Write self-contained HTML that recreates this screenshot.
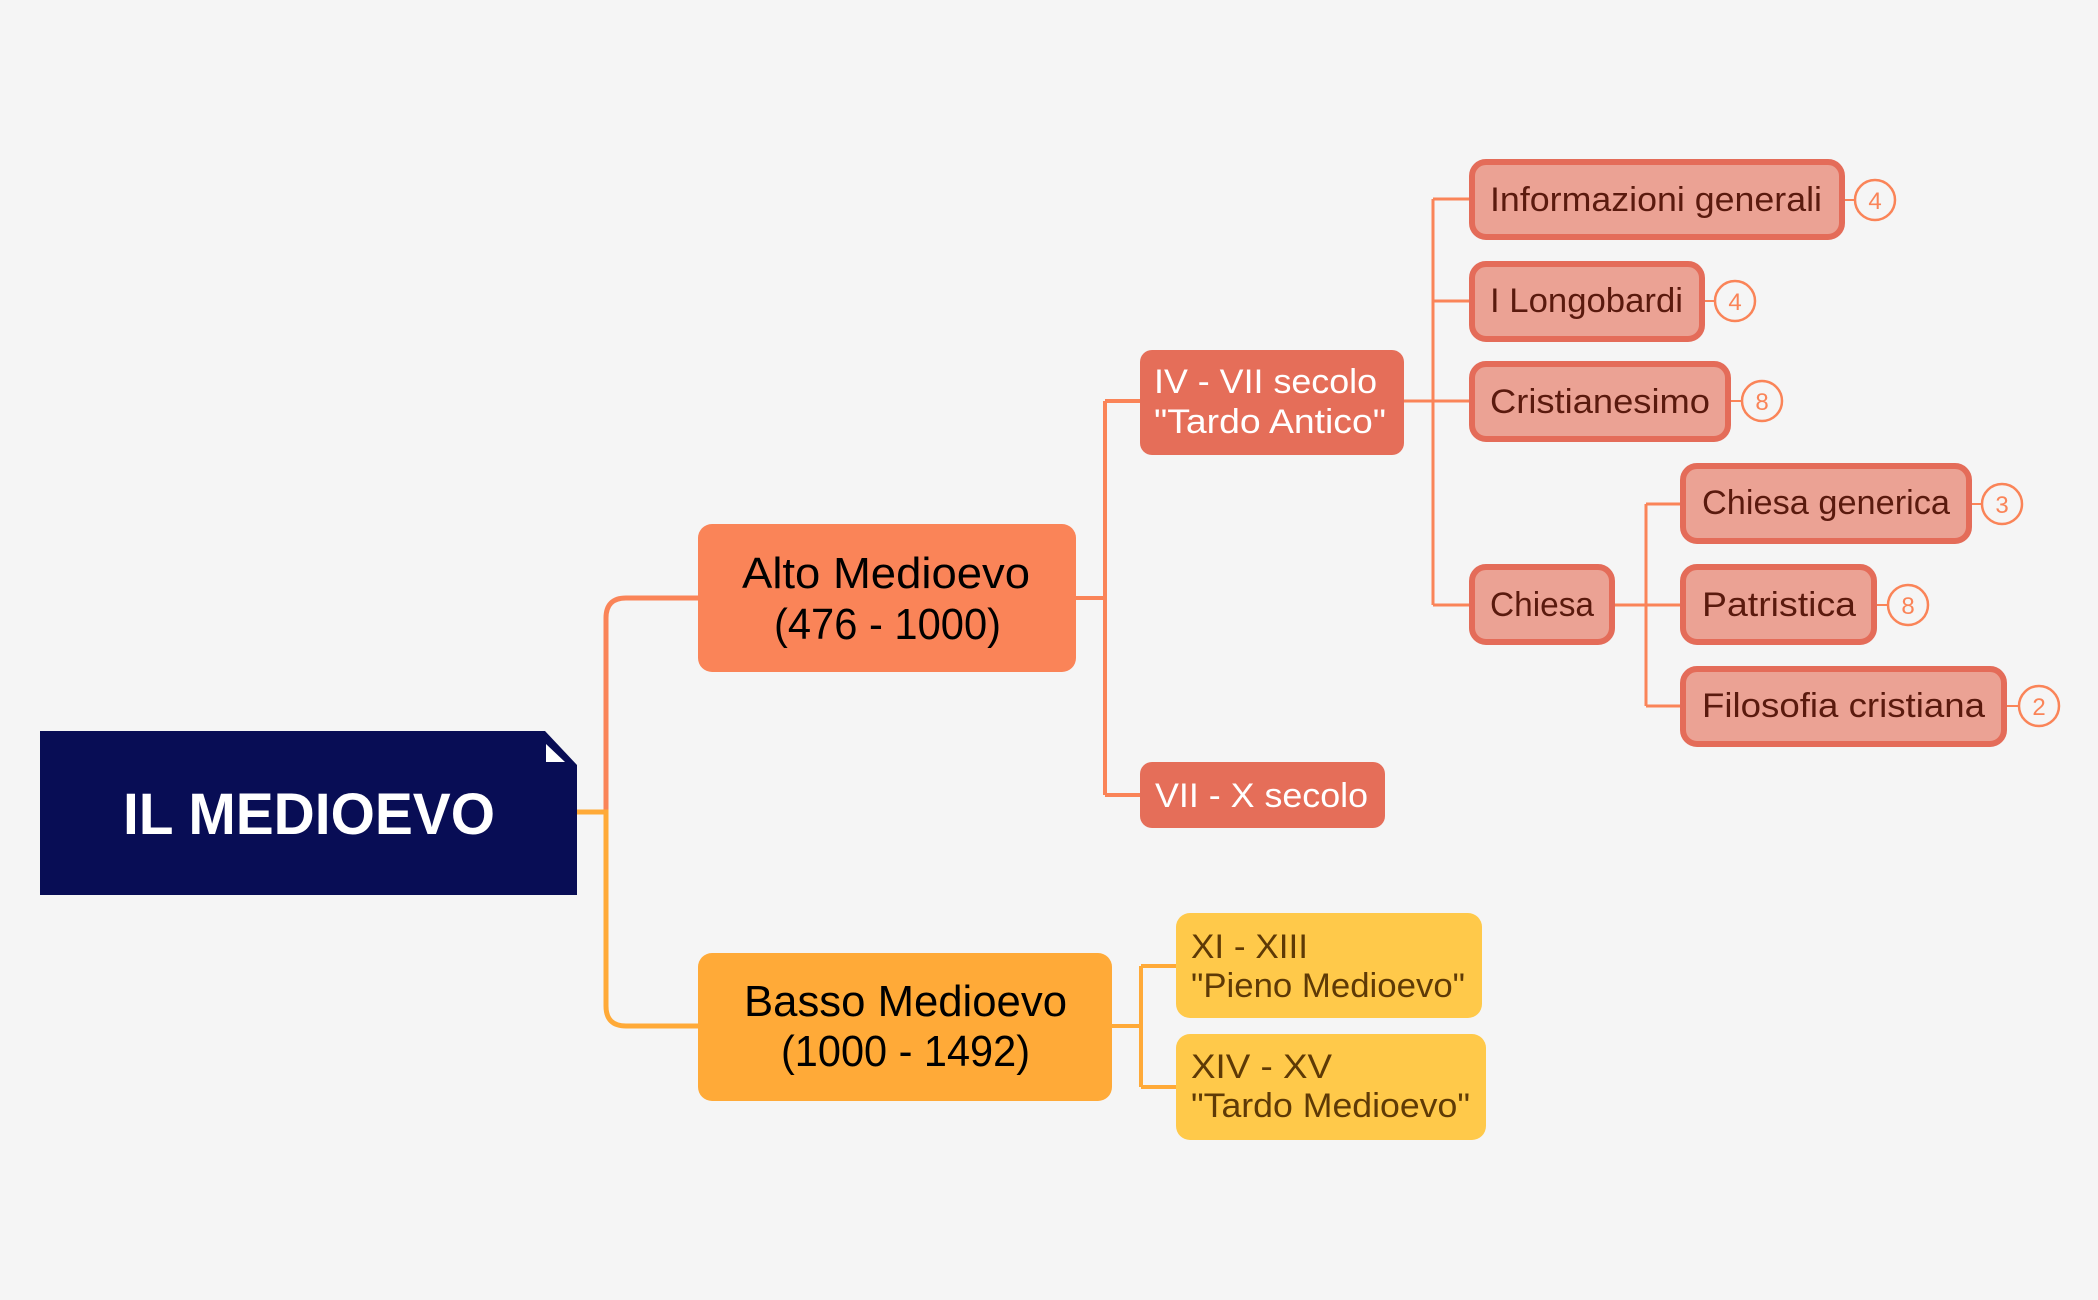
<!DOCTYPE html>
<html><head><meta charset="utf-8"><style>
html,body{margin:0;padding:0;background:#f5f5f5;}
svg{display:block;}
text{font-family:"Liberation Sans Narrow","Liberation Sans",sans-serif;}
</style></head><body>
<svg width="2098" height="1300" viewBox="0 0 2098 1300" xmlns="http://www.w3.org/2000/svg">
<rect width="2098" height="1300" fill="#f5f5f5"/>
<path d="M577,812 H606 V618 Q606,598 626,598 H698" fill="none" stroke="#FA8458" stroke-width="5"/>
<path d="M577,812 H606 V1006 Q606,1026 626,1026 H698" fill="none" stroke="#FFAA38" stroke-width="5"/>
<path d="M1076,598 H1105 M1105,401 V795 M1105,401 H1140 M1105,795 H1140" fill="none" stroke="#FA8458" stroke-width="4"/>
<path d="M1404,401 H1469 M1433,199 V605 M1433,199 H1469 M1433,301 H1469 M1433,605 H1469" fill="none" stroke="#FA8458" stroke-width="3"/>
<path d="M1615,605 H1680 M1646,504 V706 M1646,504 H1680 M1646,706 H1680" fill="none" stroke="#FA8458" stroke-width="3"/>
<path d="M1112,1026 H1141 M1141,966 V1087 M1141,966 H1176 M1141,1087 H1176" fill="none" stroke="#FFAA38" stroke-width="4"/>
<path d="M1845,200 H1855 M1705,301 H1715 M1731,401 H1742 M1972,504 H1982 M1877,605 H1888 M2007,706 H2019" fill="none" stroke="#FA8458" stroke-width="2"/>
<polygon points="40,731 545,731 577,765 577,895 40,895" fill="#080D55"/>
<polygon points="546,744 546,762 565,762" fill="#fff"/>
<text x="123" y="834" font-size="58" font-weight="bold" fill="#fff" textLength="372" lengthAdjust="spacingAndGlyphs">IL MEDIOEVO</text>
<rect x="698" y="524" width="378" height="148" rx="14" fill="#FA8458"/>
<text x="742" y="588" font-size="44" fill="#000" textLength="288" lengthAdjust="spacingAndGlyphs">Alto Medioevo</text>
<text x="774" y="639" font-size="44" fill="#000" textLength="227" lengthAdjust="spacingAndGlyphs">(476 - 1000)</text>
<rect x="698" y="953" width="414" height="148" rx="14" fill="#FFAA38"/>
<text x="744" y="1016" font-size="44" fill="#000" textLength="323" lengthAdjust="spacingAndGlyphs">Basso Medioevo</text>
<text x="781" y="1066" font-size="44" fill="#000" textLength="249" lengthAdjust="spacingAndGlyphs">(1000 - 1492)</text>
<rect x="1140" y="350" width="264" height="105" rx="12" fill="#E56E59"/>
<text x="1154" y="393" font-size="34" fill="#fff" textLength="223" lengthAdjust="spacingAndGlyphs">IV - VII secolo</text>
<text x="1154" y="433" font-size="34" fill="#fff" textLength="232" lengthAdjust="spacingAndGlyphs">"Tardo Antico"</text>
<rect x="1140" y="762" width="245" height="66" rx="12" fill="#E56E59"/>
<text x="1155" y="807" font-size="34" fill="#fff" textLength="213" lengthAdjust="spacingAndGlyphs">VII - X secolo</text>
<rect x="1176" y="913" width="306" height="105" rx="14" fill="#FFC94A"/>
<text x="1191" y="958" font-size="34" fill="#5E3A06" textLength="117" lengthAdjust="spacingAndGlyphs">XI - XIII</text>
<text x="1191" y="997" font-size="34" fill="#5E3A06" textLength="274" lengthAdjust="spacingAndGlyphs">"Pieno Medioevo"</text>
<rect x="1176" y="1034" width="310" height="106" rx="14" fill="#FFC94A"/>
<text x="1191" y="1078" font-size="34" fill="#5E3A06" textLength="141" lengthAdjust="spacingAndGlyphs">XIV - XV</text>
<text x="1191" y="1117" font-size="34" fill="#5E3A06" textLength="279" lengthAdjust="spacingAndGlyphs">"Tardo Medioevo"</text>
<g fill="#EBA294" stroke="#E46C59" stroke-width="6">
<rect x="1472" y="162" width="370" height="75" rx="14"/>
<rect x="1472" y="264" width="230" height="75" rx="14"/>
<rect x="1472" y="364" width="256" height="75" rx="14"/>
<rect x="1472" y="567" width="140" height="75" rx="14"/>
<rect x="1683" y="466" width="286" height="75" rx="14"/>
<rect x="1683" y="567" width="191" height="75" rx="14"/>
<rect x="1683" y="669" width="321" height="75" rx="14"/>
</g>
<g fill="#5A1A0E" font-size="34">
<text x="1490" y="211" textLength="332" lengthAdjust="spacingAndGlyphs">Informazioni generali</text>
<text x="1490" y="312" textLength="193" lengthAdjust="spacingAndGlyphs">I Longobardi</text>
<text x="1490" y="413" textLength="220" lengthAdjust="spacingAndGlyphs">Cristianesimo</text>
<text x="1490" y="616" textLength="104" lengthAdjust="spacingAndGlyphs">Chiesa</text>
<text x="1702" y="514" textLength="248" lengthAdjust="spacingAndGlyphs">Chiesa generica</text>
<text x="1702" y="616" textLength="154" lengthAdjust="spacingAndGlyphs">Patristica</text>
<text x="1702" y="717" textLength="283" lengthAdjust="spacingAndGlyphs">Filosofia cristiana</text>
</g>
<g fill="#f5f5f5" stroke="#FA8458" stroke-width="2.5">
<circle cx="1875" cy="200" r="20"/>
<circle cx="1735" cy="301" r="20"/>
<circle cx="1762" cy="401" r="20"/>
<circle cx="2002" cy="504" r="20"/>
<circle cx="1908" cy="605" r="20"/>
<circle cx="2039" cy="706" r="20"/>
</g>
<g fill="#FA8458" font-size="24" text-anchor="middle">
<text x="1875" y="209">4</text>
<text x="1735" y="310">4</text>
<text x="1762" y="410">8</text>
<text x="2002" y="513">3</text>
<text x="1908" y="614">8</text>
<text x="2039" y="715">2</text>
</g>
</svg>
</body></html>
